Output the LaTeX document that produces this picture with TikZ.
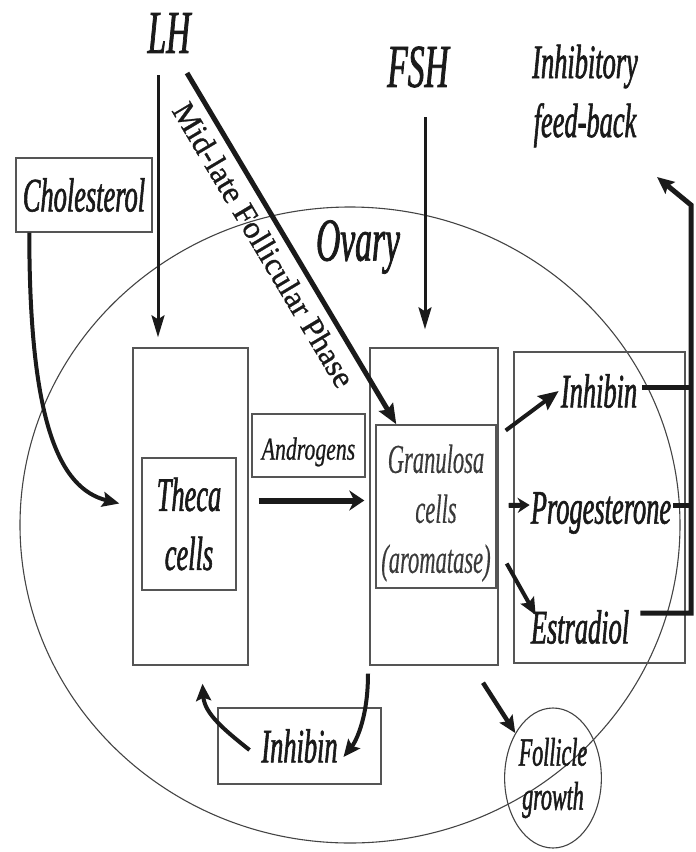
\documentclass[tikz,border=0pt]{standalone}
\usepackage{fontspec}
\setmainfont{Liberation Serif}
\newfontfamily\narrowit{Liberation Serif}[FakeStretch=0.55, FakeBold=1.2]
\newfontfamily\narrowlight{Liberation Serif}[FakeStretch=0.55, FakeBold=0.3]
\newfontfamily\midit{Liberation Serif}[FakeStretch=0.68, FakeBold=0.6]
\newfontfamily\phasefont{Liberation Serif}[FakeBold=0.8]
\usetikzlibrary{arrows.meta,shapes.geometric,calc}

\definecolor{ink}{HTML}{1A1A1A}
\definecolor{boxline}{HTML}{555555}
\definecolor{ovaryline}{HTML}{444444}
\definecolor{granink}{HTML}{3A3A3A}

\newcommand\fntHuge{\narrowit\itshape\fontsize{61}{70}\selectfont}
\newcommand\fntMain{\narrowit\itshape\fontsize{48}{59}\selectfont}
\newcommand\fntGran{\narrowlight\itshape\fontsize{41}{50}\selectfont}
\newcommand\fntAndro{\midit\itshape\fontsize{32}{36}\selectfont}
\newcommand\fntFoll{\narrowit\itshape\fontsize{40}{44}\selectfont}
\newcommand\fntPhase{\phasefont\fontsize{32}{36}\selectfont}

\begin{document}
\begin{tikzpicture}[x=1pt,y=-1pt,
  every node/.style={inner sep=0pt, text=ink},
  box/.style={draw=boxline, line width=1.4pt, rectangle},
  arr/.style={draw=ink, line width=4.5pt, -{Stealth[length=17pt,width=15pt,inset=3pt]}},
  hormonearrow/.style={draw=ink, line width=3pt, -{Stealth[length=22pt,width=13pt,inset=4pt]}},
  fb/.style={draw=ink, line width=5pt}
]
\useasboundingbox (0,0) rectangle (696,852);

% outline of the ovary
\draw[draw=ovaryline, line width=1.1pt] (350,525) ellipse [x radius=330, y radius=318];

% hormones and labels
\node[font=\fntHuge] (LH) at (169,33) {LH};
\node[font=\fntHuge] (FSH) at (418,67) {FSH};
\node[font=\fntHuge] (ovary) at (358,247) {Ovary};
\node[font=\fntMain, align=center] (fbtext) at (585,96) {Inhibitory\\feed-back};
\node[box, font=\fntMain, minimum width=136pt, minimum height=74pt] (chol) at (84,195) {Cholesterol};

% theca compartment
\node[box, minimum width=115pt, minimum height=317pt] (thecaOut) at (190.5,506.5) {};
\node[box, font=\fntMain, align=center, minimum width=94pt, minimum height=132pt] (thecaIn) at (189,524) {Theca\\cells};
\node[box, minimum width=113pt, minimum height=63pt] (andro) at (308.5,445.5) {};
\node[font=\fntAndro] (androTxt) at (308.5,452) {Androgens};

% granulosa compartment
\node[box, minimum width=128pt, minimum height=317pt] (granOut) at (434,506.5) {};
\node[box, minimum width=120pt, minimum height=163pt] (granIn) at (436,506.5) {};
\node[font=\fntGran, align=center, text=granink] (granTxt) at (436,513) {Granulosa\\cells\\(aromatase)};

% secreted products
\node[box, minimum width=171pt, minimum height=311pt] (horm) at (599.5,507.5) {};
\node[font=\fntMain] (inhR) at (599,391) {Inhibin};
\node[font=\fntMain] (prog) at (601,513) {Progesterone};
\node[font=\fntMain] (estr) at (580,627) {Estradiol};
\node[box, font=\fntMain, minimum width=163pt, minimum height=76pt] (inhB) at (299.5,746) {Inhibin};
\node[draw=ovaryline, line width=1.1pt, ellipse, minimum width=86pt, minimum height=140pt,
      font=\fntFoll, align=center] (foll) at (553,778) {Follicle\\growth};

% free ends of connectors
\coordinate (lhStart) at (158,75);
\coordinate (fshStart) at (425,117);
\coordinate (mlStart) at (187,73);
\coordinate (fbLow) at (691,613);
\coordinate (fbHigh) at (691,205);
\coordinate (fbTip) at (657,177);

% gonadotropin inputs
\draw[hormonearrow, shorten >=10pt] (lhStart) -- (lhStart |- thecaOut.north);
\draw[hormonearrow, shorten >=18pt] (fshStart) -- (fshStart |- granOut.north);
\draw[arr, line width=5pt, -{Stealth[length=20pt,width=16pt,inset=3pt]}]
  (mlStart) -- ($(granIn.north west)+(21,0)$)
  node[pos=0.457, sloped, below=8pt, font=\fntPhase] (phase) {Mid-late Follicular Phase};

% steroid pathway
\draw[arr, line width=4pt] ($(chol.south west)+(14,0)$) .. controls +(0,190) and +(-60,-15) .. ($(thecaOut.west)+(-13,-3)$);
\draw[arr, line width=6pt, -{Stealth[length=15pt,width=20pt]}] ($(thecaOut.east)+(10,-6)$) -- ($(granOut.west)+(-5,-6)$);
\draw[arr, line width=4pt, -{Stealth[length=20pt,width=17pt,inset=3pt]}] ($(granOut.east)+(7,-76)$) -- ($(inhR.west)+(-2,0)$);
\draw[arr, line width=5pt, -{Stealth[length=12pt,width=15pt]}] ($(granOut.east)+(10,-1)$) -- ($(prog.west)+(-1,-8)$);
\draw[arr, line width=4pt] ($(granOut.east)+(8,57)$) -- ($(estr.west)+(5,-12)$);

% inhibitory feedback
\draw[fb] ($(inhR.east)+(5,-4)$) coordinate (ie) -- (ie -| fbHigh);
\draw[fb] ($(prog.east)+(2,-8)$) coordinate (pe) -- (pe -| fbHigh);
\draw[fb, line join=miter, -{Stealth[length=17pt,width=15pt,inset=3pt]}]
  ($(estr.east)+(11,-14)$) -- (fbLow) -- (fbHigh) -- (fbTip);

% local inhibin loop and follicle growth
\draw[arr, line width=4pt] ($(inhB.center)+(-50,4)$) .. controls +(-25,-20) and +(2,30) .. ($(thecaOut.south)+(12,18)$);
\draw[arr, line width=4pt] ($(granOut.south)+(-66,8)$) .. controls +(0,45) and +(12,-15) .. ($(inhB.center)+(44,11)$);
\draw[arr, line width=4.5pt] ($(granOut.south)+(49,17)$) -- (foll.130);
\end{tikzpicture}
\end{document}
